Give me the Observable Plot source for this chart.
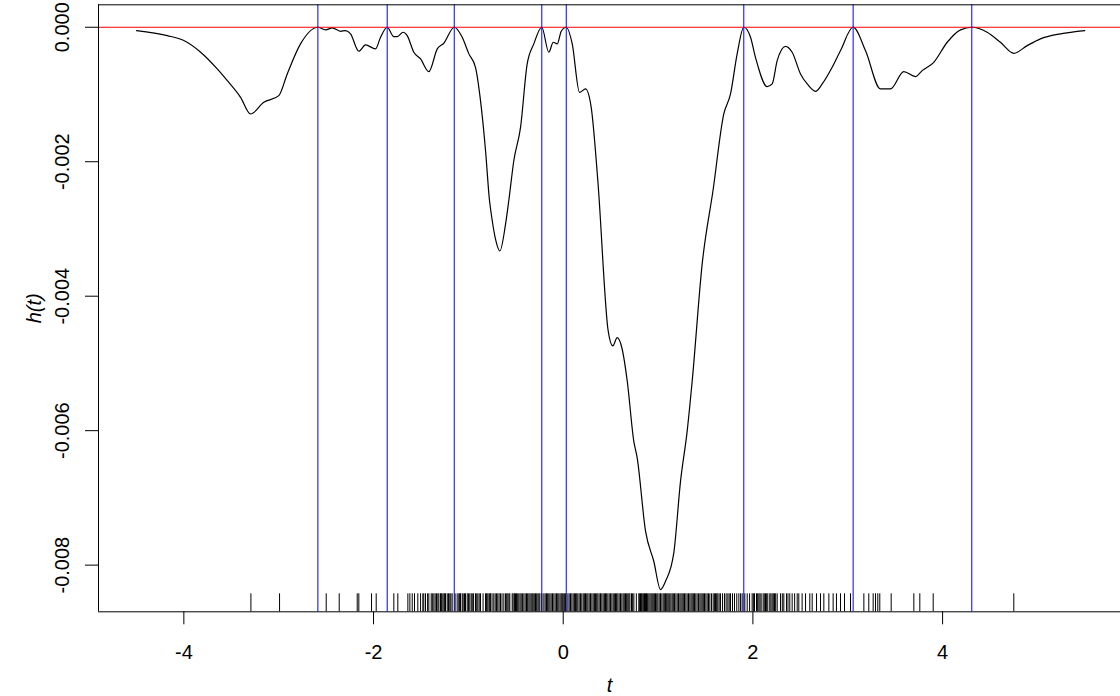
<!DOCTYPE html>
<html>
<head>
<meta charset="utf-8">
<script src="https://cdn.jsdelivr.net/npm/d3@7"></script>
<script src="https://cdn.jsdelivr.net/npm/@observablehq/plot@0.6"></script>
<style>
  html, body { margin: 0; padding: 0; background: white; }
  #chart svg { display: block; }
  #chart svg text { font-size: 20px; font-family: "Liberation Sans", Arial, Helvetica, sans-serif; }
</style>
</head>
<body>
<div id="chart"></div>
<script>
// ---- data ----
const tCurve = [-4.499, -4.175, -4.000, -3.823, -3.648, -3.542, -3.402, -3.297, -3.157, -2.999, -2.910, -2.770, -2.587,
  -2.506, -2.435, -2.348, -2.295, -2.242, -2.155, -2.085, -1.979, -1.926, -1.856,
  -1.786, -1.750, -1.687, -1.645, -1.575, -1.504, -1.417, -1.328, -1.259, -1.149,
  -1.065, -0.995, -0.925, -0.872, -0.819, -0.777, -0.756, -0.714, -0.668, -0.608, -0.574, -0.521, -0.450, -0.380, -0.310, -0.226,
  -0.152, -0.105, -0.063, -0.021, 0.032,
  0.095, 0.172, 0.235, 0.295, 0.365, 0.474, 0.523, 0.569, 0.622, 0.675, 0.744, 0.780, 0.868, 0.955, 1.026,
  1.079, 1.166, 1.237, 1.307, 1.360, 1.465, 1.579, 1.693, 1.764, 1.834, 1.904,
  1.975, 2.027, 2.151, 2.203, 2.256, 2.344, 2.414, 2.502, 2.573, 2.660, 2.731, 2.836, 2.924, 3.057,
  3.187, 3.345, 3.451, 3.591, 3.714, 3.785, 3.907, 4.049, 4.189, 4.308,
  4.470, 4.610, 4.751, 4.892, 5.032, 5.243, 5.499];
const hCurve = [-0.000049, -0.000124, -0.000198, -0.000372, -0.000620, -0.000794, -0.001042, -0.001290, -0.001117, -0.001017, -0.000694, -0.000247, 0,
  -0.000039, -0.000009, -0.000060, -0.000049, -0.000098, -0.000357, -0.000262, -0.000322, -0.000149, 0,
  -0.000138, -0.000138, -0.000074, -0.000124, -0.000372, -0.000471, -0.000660, -0.000322, -0.000238, 0,
  -0.000149, -0.000396, -0.000596, -0.001092, -0.001836, -0.002581, -0.002804, -0.003151, -0.003326, -0.002928, -0.002581, -0.001985, -0.001489, -0.000545, -0.000247, 0,
  -0.000372, -0.000223, -0.000247, -0.000060, 0,
  -0.000247, -0.000968, -0.000917, -0.001191, -0.002283, -0.004517, -0.004740, -0.004617, -0.004789, -0.005261, -0.006155, -0.006404, -0.007495, -0.007942, -0.008363,
  -0.008239, -0.007818, -0.006751, -0.006006, -0.005261, -0.003523, -0.002432, -0.001290, -0.000992, -0.000396, 0,
  -0.000149, -0.000447, -0.000883, -0.000843, -0.000496, -0.000283, -0.000372, -0.000694, -0.000843, -0.000953, -0.000843, -0.000596, -0.000347, 0,
  -0.000347, -0.000917, -0.000917, -0.000660, -0.000734, -0.000645, -0.000521, -0.000223, -0.000039, 0,
  -0.000074, -0.000223, -0.000387, -0.000273, -0.000173, -0.000098, -0.000049];

const rugT = [-3.293, -2.991, -2.499, -2.362, -2.172, -2.155, -2.021, -1.972, -1.786, -1.744,
  -1.638, -1.617, -1.592, -1.568, -1.533, -1.504, -1.470, -1.452, -1.417, -1.392, -1.364, -1.336, -1.311, -1.294,
  -1.276, -1.259, -1.241, -1.223, -1.196, -1.171, -1.118, -1.101, -1.083, -1.065, -1.041, -1.012, -0.985, -0.959,
  -0.925, -0.900, -0.872, -0.819, -0.801, -0.784, -0.766, -0.732, -0.703, -0.690, -0.661, -0.626, -0.608, -0.584, -0.563,
  -0.538, -0.513, -0.492, -0.468, -0.443, -0.415, -0.387, -0.362, -0.338, -0.317, -0.292, -0.267, -0.246, -0.204,
  -0.176, -0.152, -0.127, -0.099, -0.071, -0.046, -0.021, 0.000, 0.049, 0.077, 0.105, 0.130, 0.154, 0.182, 0.211,
  0.235, 0.260, 0.288, 0.316, 0.341, 0.365, 0.393, 0.421, 0.446, 0.471, 0.499, 0.527, 0.551, 0.576, 0.604, 0.632,
  0.657, 0.681, 0.703, 0.720, 0.745, 0.797, 0.815, 0.833, 0.857, 0.878, 0.903, 0.927, 0.949, 0.973, 0.998, 1.026,
  1.054, 1.079, 1.103, 1.124, 1.149, 1.173, 1.202, 1.230, 1.254, 1.279, 1.307, 1.335, 1.360, 1.384, 1.412, 1.441,
  1.465, 1.490, 1.518, 1.546, 1.581, 1.606, 1.630, 1.658, 1.701, 1.736, 1.764, 1.806, 1.852, 1.887, 1.940,
  1.992, 2.017, 2.038, 2.063, 2.087, 2.108, 2.133, 2.157, 2.178, 2.203, 2.228, 2.256, 2.291, 2.326, 2.354, 2.389,
  2.414, 2.467, 2.484, 2.519, 2.555, 2.600, 2.625, 2.671, 2.713, 2.748, 2.801, 2.846, 2.881, 2.924, 2.966, 3.029,
  3.170, 3.222, 3.268, 3.293, 3.317, 3.338, 3.458, 3.697, 3.760, 3.901, 4.751,
  // additional ticks in the darkest (overlapping) bands
  -1.480, -1.430, -1.380, -1.350, -1.322, -1.285, -1.250, -1.210, -1.185, -1.140, -1.092, -1.055, -1.030, -0.998,
  -0.970, -0.945, -0.912, -0.886, -0.845, -0.810, -0.775, -0.750, -0.717, -0.676, -0.645, -0.596, -0.572,
  -0.528, -0.503, -0.480, -0.455, -0.430, -0.401, -0.375, -0.350, -0.327, -0.305, -0.280, -0.256, -0.225, -0.190,
  -0.164, -0.140, -0.113, -0.085, -0.058, -0.033, -0.010, 0.012, 0.025, 0.063, 0.091, 0.118, 0.142, 0.168, 0.196,
  0.223, 0.248, 0.274, 0.302, 0.329, 0.353, 0.379, 0.407, 0.434, 0.458, 0.485, 0.513, 0.539, 0.563, 0.590, 0.618,
  0.644, 0.669, 0.692, 0.732, 0.771, 0.806, 0.824, 0.845, 0.868, 0.890, 0.915, 0.938, 0.961, 0.986, 1.012, 1.040,
  1.066, 1.091, 1.114, 1.136, 1.161, 1.188, 1.216, 1.242, 1.266, 1.293, 1.321, 1.348, 1.372, 1.398, 1.427, 1.453,
  1.477, 1.504, 1.532, 1.563, 1.594, 1.618, 1.644, 1.680, 1.718, 1.750, 1.785, 1.830, 1.870, 1.915, 1.965, 2.005,
  2.050, 2.075, 2.120, 2.145, 2.190, 2.215, 2.240, 2.310, 2.370, 2.440];

const vLines = [-2.587, -1.856, -1.149, -0.226, 0.032, 1.904, 3.057, 4.308];
const hLine = [0];

const xTicks = [-4, -2, 0, 2, 4];
const yTicks = [-0.008, -0.006, -0.004, -0.002, 0];
const xDomain = [-4.9, 5.876];
const yDomain = [-0.008694, 0.000334];
const xLabel = ["t"];
const yLabel = ["h(t)"];

const curve = tCurve.map((t, i) => ({t, h: hCurve[i]}));
const font = "Liberation Sans, Arial, Helvetica, sans-serif";
const fs = 20;

const chart = Plot.plot({
  width: 1120,
  height: 696,
  marginLeft: 98,
  marginRight: 0,
  marginTop: 4.3,
  marginBottom: 84.7,
  style: {fontFamily: font, fontSize: fs + "px", color: "black", background: "white", overflow: "visible"},
  x: {domain: xDomain},
  y: {domain: yDomain},
  marks: [
    Plot.line(curve, {x: "t", y: "h", stroke: "black", strokeWidth: 1.2, curve: "monotone-x"}),
    Plot.ruleY(hLine, {stroke: "red", strokeWidth: 1}),
    Plot.ruleX(vLines, {stroke: "blue", strokeWidth: 1}),
    Plot.ruleX(rugT, {stroke: "black", strokeWidth: 1, insetTop: 589}),
    Plot.ruleY([yDomain[0], yDomain[1]], {stroke: "black", strokeWidth: 1}),
    Plot.ruleX([xDomain[0]], {stroke: "black", strokeWidth: 1}),
    Plot.axisX({ticks: xTicks, tickSize: 13, tickPadding: 20, fontSize: fs, tickFormat: d => String(d), label: null}),
    Plot.axisY({ticks: yTicks, tickSize: 13, tickPadding: 17, tickRotate: -90, fontSize: fs, tickFormat: d => d.toFixed(3), label: null}),
    Plot.text(xLabel, {text: d => d, frameAnchor: "bottom", dy: 80, lineAnchor: "bottom", fontStyle: "italic", fontSize: fs}),
    Plot.text(yLabel, {text: d => d, frameAnchor: "left", dx: -58, rotate: -90, textAnchor: "middle", lineAnchor: "bottom", fontStyle: "italic", fontSize: fs})
  ]
});
document.getElementById("chart").appendChild(chart);
</script>
</body>
</html>
